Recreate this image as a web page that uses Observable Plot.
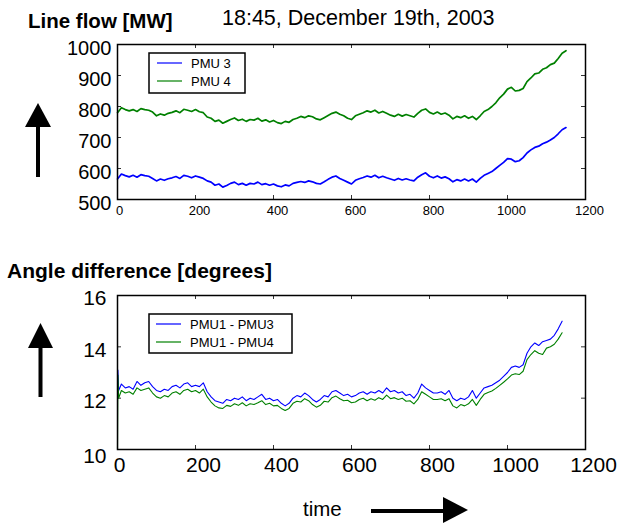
<!DOCTYPE html>
<html>
<head>
<meta charset="utf-8">
<script src="https://cdn.jsdelivr.net/npm/d3@7"></script>
<script src="https://cdn.jsdelivr.net/npm/@observablehq/plot@0.6"></script>
<style>
  html, body { margin: 0; padding: 0; background: white; }
  #wrap { position: relative; width: 620px; height: 524px; font-family: "Liberation Sans", Arial, sans-serif; }
  #wrap > svg, #wrap > figure { position: absolute; left: 0; margin: 0; }
</style>
</head>
<body>
<div id="wrap"></div>
<script>
// ---------- data ----------
const seriesColors = ["#0000ff", "#008000"];
const flowNames = ["PMU 3", "PMU 4"];
const angleNames = ["PMU1 - PMU3", "PMU1 - PMU4"];

const flowTime = [0,10,20,30,40,50,60,70,80,90,100,110,120,130,140,150,160,170,180,190,200,210,220,230,240,250,260,270,280,290,300,310,320,330,340,350,360,370,380,390,400,410,420,430,440,450,460,470,480,490,500,510,520,530,540,550,560,570,580,590,600,610,620,630,640,650,660,670,680,690,700,710,720,730,740,750,760,770,780,790,800,810,820,830,840,850,860,870,880,890,900,910,920,930,940,950,960,970,980,990,1000,1010,1020,1030,1040,1050,1060,1070,1080,1090,1100,1110,1120,1130,1140,1150];

const pmu3 = [566,582,577,573,578,572,580,577,575,568,560,566,562,567,570,574,568,578,575,570,576,572,568,560,556,546,550,540,545,552,556,548,552,546,552,550,556,548,551,546,550,544,541,547,544,552,555,558,555,560,557,552,550,557,565,572,576,568,562,556,550,562,567,571,576,572,578,570,575,570,566,562,568,563,567,563,560,572,580,586,575,570,576,569,573,567,557,564,560,566,560,566,556,568,578,584,590,600,610,620,632,630,622,625,635,650,660,668,672,680,685,692,700,712,725,732];

const pmu4 = [780,796,790,786,790,784,793,790,788,782,770,776,772,778,781,786,780,791,788,784,790,783,780,766,762,752,756,746,752,758,763,755,759,752,758,756,762,753,757,750,755,748,745,752,749,758,762,768,764,770,767,760,757,764,771,778,782,775,770,762,758,770,775,780,786,782,788,779,784,778,772,768,775,769,774,770,766,778,788,792,781,776,782,775,779,772,760,768,764,770,762,768,758,770,784,790,800,812,828,840,856,862,850,852,858,880,892,905,908,920,925,935,940,955,972,980];

const angleTime = [0,1,3,10,20,30,40,50,60,70,80,90,100,110,120,130,140,150,160,170,180,190,200,210,220,230,240,250,260,270,280,290,300,310,320,330,340,350,360,370,380,390,400,410,420,430,440,450,460,470,480,490,500,510,520,530,540,550,560,570,580,590,600,610,620,630,640,650,660,670,680,690,700,710,720,730,740,750,760,770,780,790,800,810,820,830,840,850,860,870,880,890,900,910,920,930,940,950,960,970,980,990,1000,1010,1020,1030,1040,1050,1060,1070,1080,1090,1100,1110,1120,1130,1140];

const angle13 = [12.9,13.1,12.3,12.55,12.4,12.45,12.35,12.65,12.5,12.6,12.65,12.45,12.3,12.25,12.35,12.3,12.45,12.5,12.4,12.55,12.6,12.45,12.5,12.45,12.6,12.25,12.05,11.9,11.85,11.8,11.95,11.9,12.0,11.95,12.05,11.9,12.0,11.95,12.05,12.15,11.95,12.0,11.9,11.95,11.8,11.7,11.8,12.0,12.1,12.05,12.2,12.1,11.95,11.85,11.95,12.1,12.05,12.25,12.3,12.2,12.1,12.15,12.05,12.1,12.2,12.25,12.15,12.25,12.2,12.3,12.2,12.4,12.25,12.3,12.2,12.25,12.1,12.15,12.0,12.2,12.55,12.4,12.3,12.2,12.2,12.25,12.15,12.3,12.0,11.9,12.0,11.95,12.05,12.3,12.0,12.2,12.4,12.45,12.5,12.6,12.7,12.85,13.0,13.2,13.25,13.2,13.3,13.75,14.0,14.15,14.05,14.2,14.25,14.3,14.45,14.7,15.0];

const angle14 = [10.0,12.9,12.0,12.3,12.2,12.25,12.15,12.4,12.3,12.35,12.4,12.2,12.05,12.0,12.1,12.05,12.2,12.25,12.15,12.3,12.35,12.25,12.3,12.2,12.35,12.05,11.85,11.7,11.62,11.6,11.72,11.68,11.78,11.72,11.82,11.7,11.78,11.75,11.82,11.9,11.75,11.8,11.7,11.72,11.6,11.52,11.6,11.8,11.88,11.85,11.98,11.9,11.75,11.65,11.72,11.88,11.85,12.02,12.08,11.98,11.9,11.92,11.82,11.85,11.95,12.0,11.9,11.98,11.92,12.02,11.95,12.12,11.98,12.02,11.95,12.0,11.88,11.9,11.78,11.95,12.25,12.15,12.05,11.95,11.95,11.98,11.9,11.98,11.7,11.62,11.75,11.7,11.78,11.95,11.72,11.95,12.15,12.22,12.28,12.38,12.5,12.62,12.75,12.9,12.95,12.92,13.05,13.5,13.7,13.85,13.75,13.7,13.95,14.0,14.1,14.3,14.55];

const xTickValues = [0,200,400,600,800,1000,1200];
const flowTicks = [500,600,700,800,900,1000];
const angleTicks = [10,12,14,16];

// ---------- tables ----------
const flowData = flowTime.flatMap((t, i) => [
  {t, v: pmu3[i], s: flowNames[0]},
  {t, v: pmu4[i], s: flowNames[1]}
]);
const angleData = angleTime.flatMap((t, i) => [
  {t, v: angle13[i], s: angleNames[0]},
  {t, v: angle14[i], s: angleNames[1]}
]);

const FONT = '"Liberation Sans", Arial, sans-serif';
const W = 620;
const ML = 117, MR = 35;
const innerW = W - ML - MR;
const fmt = d3.format("d");

function innerTicks(xVals, yVals, innerH) {
  const c = "#333";
  return [
    Plot.ruleX(xVals, {x: d => d, insetTop: innerH - 4, stroke: c}),
    Plot.ruleX(xVals, {x: d => d, insetBottom: innerH - 4, stroke: c}),
    Plot.ruleY(yVals, {y: d => d, insetRight: innerW - 4, stroke: c}),
    Plot.ruleY(yVals, {y: d => d, insetLeft: innerW - 4, stroke: c})
  ];
}

// ---------- top chart ----------
const h1 = 250, mt1 = 44, mb1 = 51;
const chart1 = Plot.plot({
  width: W, height: h1,
  marginLeft: ML, marginRight: MR, marginTop: mt1, marginBottom: mb1,
  style: {fontFamily: FONT, background: "transparent", overflow: "visible", color: "black"},
  x: {domain: [0, 1200], axis: null},
  y: {domain: [500, 1000], axis: null},
  color: {domain: flowNames, range: seriesColors},
  marks: [
    ...innerTicks(xTickValues.slice(1, -1), flowTicks.slice(1, -1), h1 - mt1 - mb1),
    Plot.line(flowData, {x: "t", y: "v", z: "s", stroke: "s", strokeWidth: 1.7}),
    Plot.frame({stroke: "black", strokeWidth: 1.5}),
    Plot.axisY(flowTicks, {anchor: "left", tickSize: 0, tickPadding: 6, fontSize: 20, dy: 4, label: null, tickFormat: fmt}),
    Plot.axisX(xTickValues.slice(0, 1), {anchor: "bottom", tickSize: 0, tickPadding: 6, fontSize: 13, dx: 2, label: null, tickFormat: fmt}),
    Plot.axisX(xTickValues.slice(1), {anchor: "bottom", tickSize: 0, tickPadding: 6, fontSize: 13, dx: 4, label: null, tickFormat: fmt})
  ]
});
chart1.style.top = "0px";

// ---------- bottom chart ----------
const h2 = 274, mt2 = 45, mb2 = 75;
const chart2 = Plot.plot({
  width: W, height: h2,
  marginLeft: ML, marginRight: MR, marginTop: mt2, marginBottom: mb2,
  style: {fontFamily: FONT, background: "transparent", overflow: "visible", color: "black"},
  x: {domain: [0, 1200], axis: null},
  y: {domain: [10, 16], axis: null},
  color: {domain: angleNames, range: seriesColors},
  marks: [
    ...innerTicks(xTickValues.slice(1, -1), angleTicks.slice(1, -1), h2 - mt2 - mb2),
    Plot.line(angleData, {x: "t", y: "v", z: "s", stroke: "s", strokeWidth: 1.1}),
    Plot.frame({stroke: "black", strokeWidth: 1.5}),
    Plot.axisY(angleTicks.slice(1), {anchor: "left", tickSize: 0, tickPadding: 11, fontSize: 21, dy: 3, label: null, tickFormat: fmt}),
    Plot.axisY(angleTicks.slice(0, 1), {anchor: "left", tickSize: 0, tickPadding: 11, fontSize: 21, dy: 7, label: null, tickFormat: fmt}),
    Plot.axisX(xTickValues.slice(0, 1), {anchor: "bottom", tickSize: 0, tickPadding: 8, fontSize: 21, dx: 2, label: null, tickFormat: fmt}),
    Plot.axisX(xTickValues.slice(1), {anchor: "bottom", tickSize: 0, tickPadding: 8, fontSize: 21, dx: 8, label: null, tickFormat: fmt})
  ]
});
chart2.style.top = "250px";

const wrap = document.getElementById("wrap");
wrap.appendChild(chart1);
wrap.appendChild(chart2);

// ---------- overlay: titles, legends, arrows ----------
const ov = d3.create("svg")
  .attr("width", 620).attr("height", 524)
  .style("position", "absolute").style("top", "0px").style("left", "0px")
  .style("pointer-events", "none")
  .style("font-family", FONT);

ov.append("text").attr("x", 28).attr("y", 28).attr("font-size", 20.5).attr("font-weight", "bold").text("Line flow [MW]");
ov.append("text").attr("x", 222).attr("y", 25).attr("font-size", 21.5).text("18:45, December 19th, 2003");
ov.append("text").attr("x", 7).attr("y", 278).attr("font-size", 21).attr("font-weight", "bold").text("Angle difference [degrees]");
ov.append("text").attr("x", 303).attr("y", 516).attr("font-size", 20.5).text("time");

function legend(x, y, w, h, names, lineX0, lineX1, textX, rowY) {
  ov.append("rect").attr("x", x).attr("y", y).attr("width", w).attr("height", h)
    .attr("fill", "white").attr("stroke", "black").attr("stroke-width", 1.5);
  names.forEach((n, i) => {
    ov.append("line").attr("x1", lineX0).attr("x2", lineX1).attr("y1", rowY[i]).attr("y2", rowY[i])
      .attr("stroke", seriesColors[i]).attr("stroke-width", 1.2);
    ov.append("text").attr("x", textX).attr("y", rowY[i] + 4.5).attr("font-size", 13).text(n);
  });
}
legend(149, 53, 96, 40, flowNames, 157, 182, 191, [63, 81]);
legend(149, 314, 143, 39, angleNames, 156, 181, 190, [324, 342]);

// arrows
ov.append("polygon").attr("points", "38,103 25,127 51,127").attr("fill", "black");
ov.append("rect").attr("x", 36).attr("y", 126).attr("width", 4).attr("height", 51).attr("fill", "black");
ov.append("polygon").attr("points", "40.5,323 28,348 53,348").attr("fill", "black");
ov.append("rect").attr("x", 38.5).attr("y", 347).attr("width", 4).attr("height", 50).attr("fill", "black");
ov.append("rect").attr("x", 371).attr("y", 509).attr("width", 73).attr("height", 4).attr("fill", "black");
ov.append("polygon").attr("points", "443,497 443,523 468,510").attr("fill", "black");

wrap.appendChild(ov.node());
</script>
</body>
</html>
